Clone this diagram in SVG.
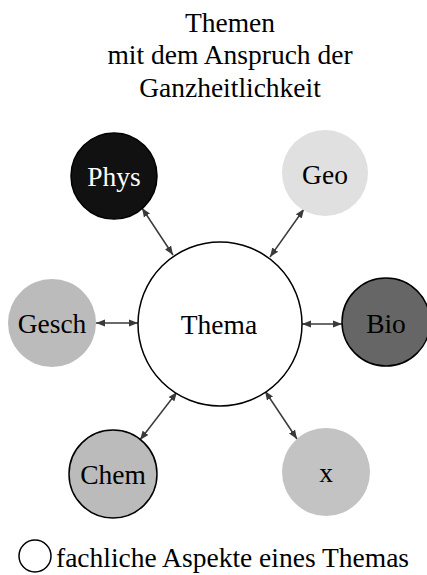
<svg xmlns="http://www.w3.org/2000/svg" width="427" height="575" viewBox="0 0 427 575">
<style>
text{font-family:"Liberation Serif","Times New Roman",serif;font-size:27.5px;fill:#000;text-anchor:middle}
.c{stroke:#000;stroke-width:1.5}
.a{stroke:#3a3a3a;stroke-width:1.5;fill:none;marker-start:url(#ah);marker-end:url(#ah)}
</style>
<defs>
<marker id="ah" viewBox="0 0 10 10" refX="10" refY="5" markerWidth="9" markerHeight="9" markerUnits="userSpaceOnUse" orient="auto-start-reverse">
<path d="M0,1 L10,5 L0,9 Z" fill="#3a3a3a"/>
</marker>
</defs>
<g id="title">
<text x="230" y="32">Themen</text>
<text x="230" y="64">mit dem Anspruch der</text>
<text x="230" y="97">Ganzheitlichkeit</text>
</g>
<g id="connectors">
<line class="a" x1="142" y1="208" x2="173" y2="255"/>
<line class="a" x1="304" y1="209" x2="270" y2="257"/>
<line class="a" x1="96" y1="323" x2="138" y2="323"/>
<line class="a" x1="302" y1="324" x2="342" y2="324"/>
<line class="a" x1="140" y1="440" x2="177" y2="392"/>
<line class="a" x1="297" y1="439" x2="265" y2="391"/>
</g>
<g id="thema">
<circle class="c" cx="220" cy="324" r="82" fill="#fff"/>
<text x="219" y="334">Thema</text>
</g>
<g id="phys">
<circle class="c" cx="114" cy="176" r="43" fill="#111"/>
<text x="114" y="186" style="fill:#fff">Phys</text>
</g>
<g id="geo">
<circle cx="325" cy="173" r="43" fill="#e0e0e0"/>
<text x="325" y="184">Geo</text>
</g>
<g id="gesch">
<circle cx="52" cy="323" r="44" fill="#bbbbbb"/>
<text x="52" y="333">Gesch</text>
</g>
<g id="bio">
<circle class="c" cx="386" cy="322" r="44" fill="#666666"/>
<text x="386" y="333">Bio</text>
</g>
<g id="chem">
<circle class="c" cx="113" cy="474" r="44" fill="#bbbbbb"/>
<text x="113" y="484">Chem</text>
</g>
<g id="x">
<circle cx="326" cy="472" r="44" fill="#c3c3c3"/>
<text x="326" y="482">x</text>
</g>
<g id="legend">
<circle class="c" cx="35" cy="556" r="16" fill="#fff"/>
<text x="56" y="567" style="text-anchor:start">fachliche Aspekte eines Themas</text>
</g>
</svg>
